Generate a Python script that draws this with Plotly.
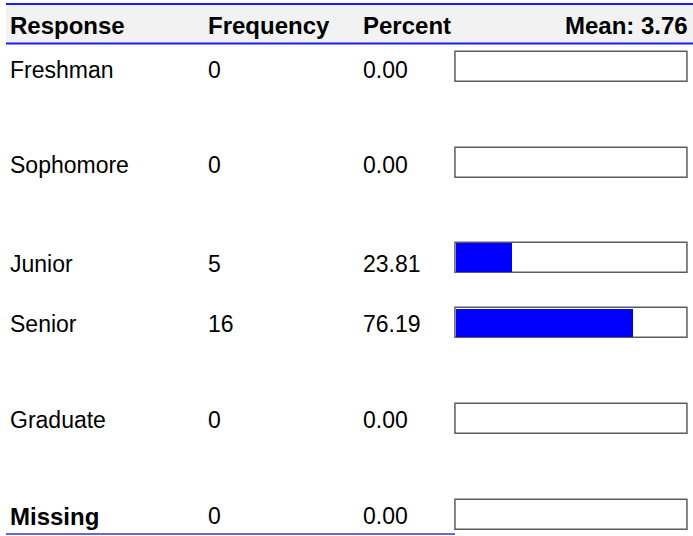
import plotly.graph_objects as go

# ---- data ----
responses = ["Freshman", "Sophomore", "Junior", "Senior", "Graduate", "Missing"]
frequency = [0, 0, 5, 16, 0, 0]
percent = [0.00, 0.00, 23.81, 76.19, 0.00, 0.00]
headers = ["Response", "Frequency", "Percent"]
mean_label = "Mean: 3.76"

# ---- layout constants (pixels) ----
W, H = 693, 536
ROW_Y = [66.7, 162.5, 257.7, 322.8, 418.5, 514.5]   # bar-box centres
TEXT_Y = [70, 165, 264, 324, 420, 516]              # text centres
COL_X = [8, 206, 361]
BOX_X0, BOX_X1 = 456, 688
PAD = 1.0   # range padding (percent units) so the box outline is not clipped
U = (BOX_X1 - BOX_X0) / 100.0
BAR_H = 30
FONT = "Liberation Sans, Arial, sans-serif"
REG, BOLD = 23, 24

fig = go.Figure()

# full-width outline boxes (100%)
fig.add_trace(go.Bar(
    y=ROW_Y, x=[100] * len(responses), orientation="h", width=BAR_H,
    marker=dict(color="white", line=dict(color="#5c5c5c", width=1.5)),
    xaxis="x2", yaxis="y", hoverinfo="skip", showlegend=False))
# percent fill
fig.add_trace(go.Bar(
    y=ROW_Y, x=percent, orientation="h", width=BAR_H - 1.5,
    marker=dict(color="#0000ff", line=dict(width=0)),
    xaxis="x2", yaxis="y", showlegend=False,
    hovertemplate="%{x:.2f}%<extra></extra>"))

shapes = [
    dict(type="rect", xref="x", yref="y", x0=6, x1=W, y0=4.5, y1=43,
         fillcolor="#f2f2f2", line=dict(width=0), layer="below"),
    dict(type="line", xref="x", yref="y", x0=6, x1=W, y0=4, y1=4,
         line=dict(color="#1a1aff", width=2)),
    dict(type="line", xref="x", yref="y", x0=6, x1=W, y0=43.5, y1=43.5,
         line=dict(color="#1a1aff", width=2)),
    dict(type="line", xref="x", yref="y", x0=6, x1=455, y0=534, y1=534,
         line=dict(color="#3333dd", width=1.5)),
]

ann = []
for h, x in zip(headers, COL_X):
    ann.append(dict(x=x, y=25, xref="x", yref="y", text=f"<b>{h}</b>",
                    showarrow=False, xanchor="left", yanchor="middle",
                    font=dict(family=FONT, size=BOLD, color="black")))
ann.append(dict(x=690, y=25, xref="x", yref="y", text=f"<b>{mean_label}</b>",
                showarrow=False, xanchor="right", yanchor="middle",
                font=dict(family=FONT, size=BOLD, color="black")))

for i, (r, f, p) in enumerate(zip(responses, frequency, percent)):
    ty = TEXT_Y[i]
    bold = r == "Missing"
    label = f"<b>{r}</b>" if bold else r
    for j, (txt, x) in enumerate(zip([label, str(f), f"{p:.2f}"], COL_X)):
        ann.append(dict(x=x, y=ty, xref="x", yref="y", text=txt,
                        showarrow=False, xanchor="left", yanchor="middle",
                        font=dict(family=FONT, size=BOLD if (bold and j == 0) else REG,
                                  color="black")))

fig.update_layout(
    width=W, height=H, margin=dict(l=0, r=0, t=0, b=0),
    paper_bgcolor="white", plot_bgcolor="rgba(0,0,0,0)",
    barmode="overlay", bargap=0,
    xaxis=dict(range=[0, W], visible=False, domain=[0, 1], fixedrange=True),
    xaxis2=dict(range=[-PAD, 100 + PAD], visible=False, anchor="y",
                domain=[(BOX_X0 - PAD * U) / W, (BOX_X1 + PAD * U) / W],
                fixedrange=True),
    yaxis=dict(range=[H, 0], visible=False, fixedrange=True),
    shapes=shapes, annotations=ann,
)

fig.write_html("out.html", config={"displayModeBar": False},
               post_script="document.body.style.margin='0';"
                           "document.body.style.overflow='hidden';")
